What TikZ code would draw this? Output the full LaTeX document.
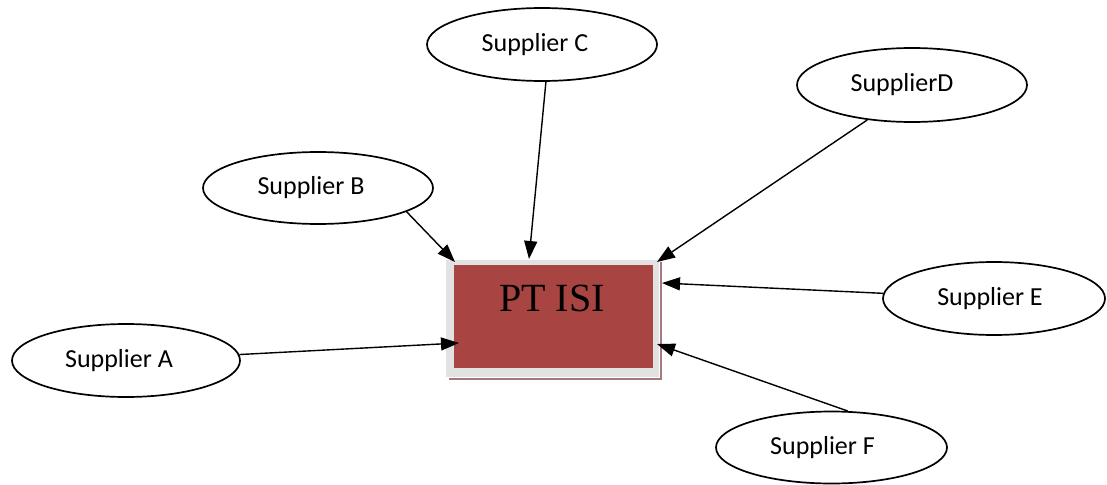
\documentclass[tikz,border=0pt]{standalone}
\usepackage{fontspec}
\setmainfont{Liberation Serif}
\newfontfamily\calibri{Carlito}
\usetikzlibrary{shapes.geometric,arrows.meta}
\definecolor{boxred}{RGB}{168,68,66}
\definecolor{framegray}{RGB}{226,226,226}
\definecolor{shadowmauve}{RGB}{165,120,125}
\begin{document}
\begin{tikzpicture}[x=1pt,y=-1pt,
  supplier/.style={ellipse, draw=black, line width=1.7pt, inner sep=0pt,
    font=\calibri\fontsize{26}{30}\selectfont},
  feed/.style={draw=black, line width=1.4pt, -{Triangle[length=18pt,width=13pt]}},
]
\useasboundingbox (0,0) rectangle (1107,484);
\fill[white] (0,0) rectangle (1107,484);

% company box: light frame, drop shadow, red body and title
\fill[framegray] (446,260) rectangle (659,377);
\draw[shadowmauve, line width=2pt] (449,379) -- (661,379) -- (661,262);
\node[fill=boxred, minimum width=199pt, minimum height=103pt, inner sep=0pt,
  anchor=north west] (isi) at (454,265) {};
\node[font=\fontsize{40}{44}\selectfont, anchor=base, inner sep=0pt] (isilabel) at (552,311) {PT ISI};

% suppliers (labels sit a little left of centre)
\node[supplier, minimum width=228pt, minimum height=73pt] (A) at (126,360.5) {Supplier A\hspace*{14pt}};
\node[supplier, minimum width=230pt, minimum height=72pt] (B) at (318,188) {Supplier B\hspace*{14pt}};
\node[supplier, minimum width=230pt, minimum height=73pt] (C) at (542,44.5) {Supplier C\hspace*{14pt}};
\node[supplier, minimum width=230pt, minimum height=74pt] (D) at (912,85) {SupplierD\hspace*{20pt}};
\node[supplier, minimum width=222pt, minimum height=73pt] (E) at (994,298.5) {Supplier E\hspace*{8pt}};
\node[supplier, minimum width=231pt, minimum height=72pt] (F) at (831.5,447.5) {Supplier F\hspace*{18pt}};

% arrow targets on the company box
\coordinate (tA) at (459,343);
\coordinate (tB) at (455,262);
\coordinate (tC) at (529,259);
\coordinate (tD) at (657,262);
\coordinate (tE) at (662,283);
\coordinate (tF) at (657,344);

% supply links
\draw[feed] (A) -- (tA);
\draw[feed] (B.-15) -- (tB);
\draw[feed] (C.-84) -- (tC);
\draw[feed] (D.-142) -- (tD);
\draw[feed] (E) -- (tE);
\draw[feed] (F.66) -- (tF);
\end{tikzpicture}
\end{document}
